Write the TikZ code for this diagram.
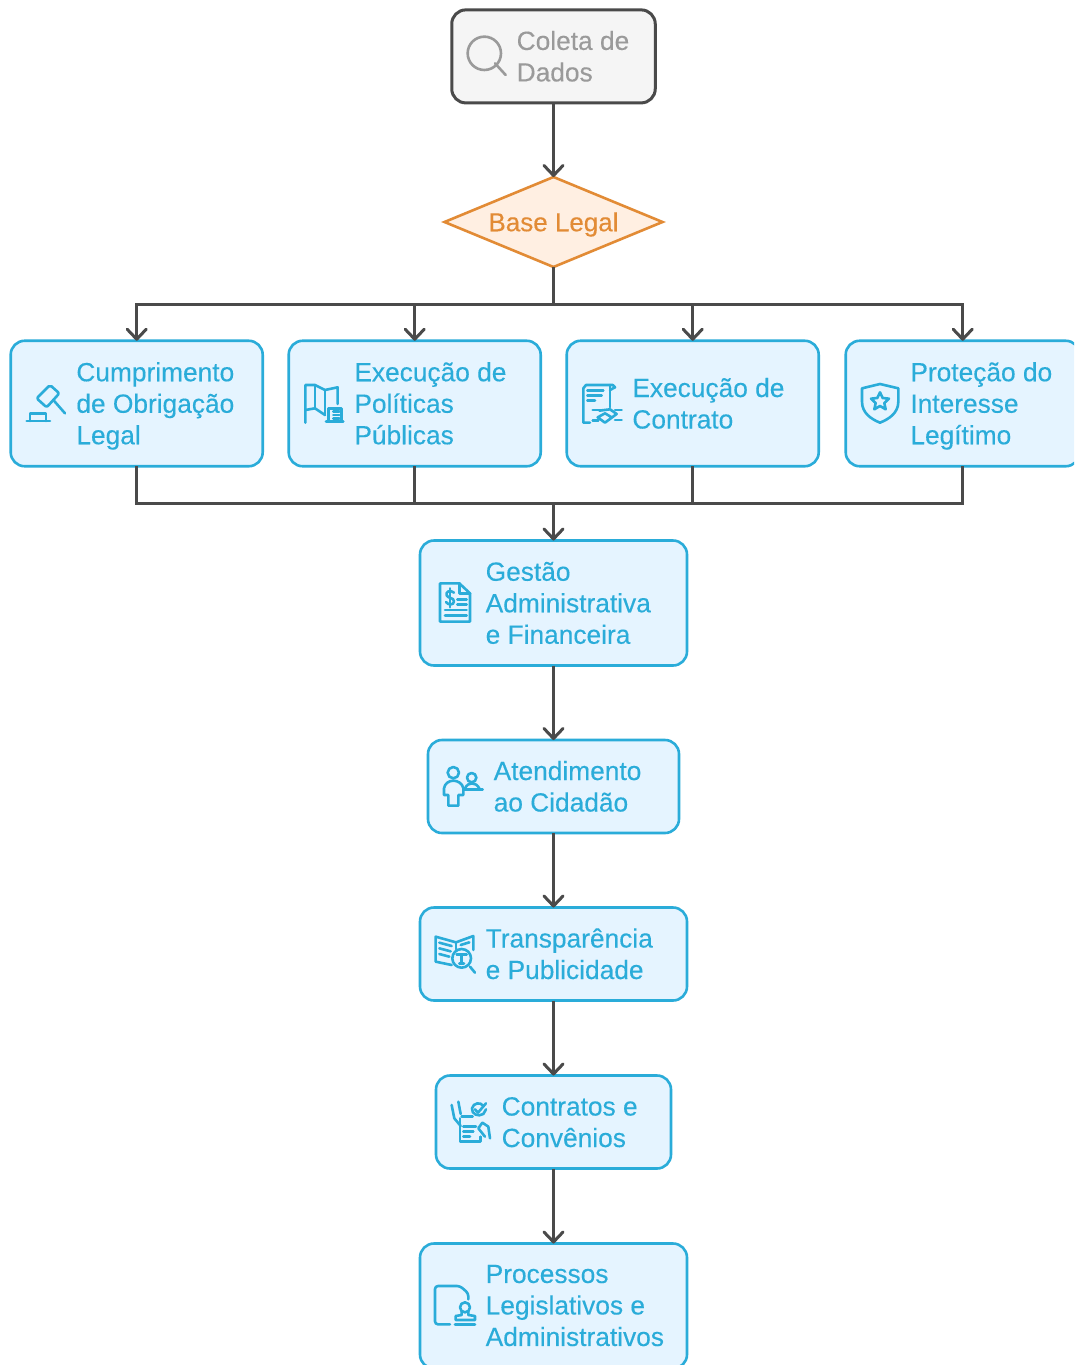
\documentclass[tikz,border=0pt]{standalone}
\usepackage{fontspec}
\setmainfont[FakeBold=0.25]{Liberation Sans}
\usetikzlibrary{arrows.meta,shapes.geometric}
\definecolor{blu}{HTML}{2AACD9}
\definecolor{blufill}{HTML}{E5F4FF}
\definecolor{orng}{HTML}{E28B35}
\definecolor{orngfill}{HTML}{FFEFE2}
\definecolor{gry}{HTML}{4A4A4A}
\definecolor{grytxt}{HTML}{9A9A9A}
\definecolor{gryfill}{HTML}{F5F5F5}
\newcommand\st{\rule[-6.5pt]{0pt}{31.5pt}}
\tikzset{
  box/.style={draw=blu,fill=blufill,line width=2.6pt,rounded corners=14pt,inner sep=0pt,outer sep=0pt},
  graybox/.style={draw=gry,fill=gryfill,line width=3pt,rounded corners=14pt,inner sep=0pt,outer sep=0pt},
  decision/.style={diamond,shape aspect=2.42,draw=orng,fill=orngfill,line width=2.6pt,inner sep=0pt,outer sep=0pt,text=orng,font=\fontsize{26}{31.5}\selectfont},
  lab/.style={anchor=west,align=left,inner sep=0pt,text=blu,font=\fontsize{26.3}{31.5}\selectfont},
  conn/.style={draw=gry,line width=3pt},
  arr/.style={conn,-{Straight Barb[length=10pt,width=19pt,round]}},
  ico/.style={draw=blu,line width=2.6pt,line cap=round,line join=round},
  zoomed/.style={shift={#1},x=0.3333pt,y=-0.3333pt},
}
\begin{document}
\begin{tikzpicture}[x=1pt,y=-1pt]
\clip (0,0) rectangle (1074,1365);
\fill[white] (0,0) rectangle (1074,1365);
% nodes
\node[graybox,minimum width=203.5pt,minimum height=93pt] (coleta) at (553.5,56.4) {};
\node[decision,minimum width=218pt,minimum height=90pt] (base) at (553.5,222) {\st Base Legal};
\node[box,minimum width=252pt,minimum height=125.5pt] (cump) at (136.7,403.5) {};
\node[box,minimum width=252pt,minimum height=125.5pt] (polit) at (414.7,403.5) {};
\node[box,minimum width=252pt,minimum height=125.5pt] (contr) at (692.7,403.5) {};
\node[box,minimum width=234pt,minimum height=125.5pt] (prot) at (962.7,403.5) {};
\node[box,minimum width=267pt,minimum height=125pt] (gest) at (553.5,603) {};
\node[box,minimum width=251pt,minimum height=93pt] (atend) at (553.5,786.5) {};
\node[box,minimum width=267pt,minimum height=93pt] (transp) at (553.5,954) {};
\node[box,minimum width=235pt,minimum height=93pt] (conv) at (553.5,1122) {};
\node[box,minimum width=267pt,minimum height=125pt] (proc) at (553.5,1306) {};
% labels
\node[lab,text=grytxt] (tcoleta) at (516.5,56.4) {\st Coleta de\\\st Dados};
\node[lab] (tcump) at (76.2,403.5) {\st Cumprimento\\\st de Obrigação\\\st Legal};
\node[lab] (tpolit) at (354.2,403.5) {\st Execução de\\\st Políticas\\\st Públicas};
\node[lab] (tcontr) at (632.2,403.5) {\st Execução de\\\st Contrato};
\node[lab] (tprot) at (910.2,403.5) {\st Proteção do\\\st Interesse\\\st Legítimo};
\node[lab] (tgest) at (485.5,603) {\st Gestão\\\st Administrativa\\\st e Financeira};
\node[lab] (tatend) at (493.5,786.5) {\st Atendimento\\\st ao Cidadão};
\node[lab] (ttransp) at (485.5,954) {\st Transparência\\\st e Publicidade};
\node[lab] (tconv) at (501.5,1122) {\st Contratos e\\\st Convênios};
\node[lab] (tproc) at (485.5,1305.2) {\st Processos\\\st Legislativos e\\\st Administrativos};
% junctions
\coordinate (busT) at (base.south |- 0,304);
\coordinate (busB) at (base.south |- 0,503);
% connectors
\draw[arr] (coleta) -- (base);
\draw[conn] (base) -- (busT);
\draw[arr] (busT) -| (cump.north);
\draw[arr] (busT) -| (polit.north);
\draw[arr] (busT) -| (contr.north);
\draw[arr] (busT) -| (prot.north);
\draw[conn] (cump.south) |- (busB);
\draw[conn] (polit.south) |- (busB);
\draw[conn] (contr.south) |- (busB);
\draw[conn] (prot.south) |- (busB);
\draw[arr] (busB) -- (gest.north);
\draw[arr] (gest) -- (atend);
\draw[arr] (atend) -- (transp);
\draw[arr] (transp) -- (conv);
\draw[arr] (conv) -- (proc);
% search icon
\begin{scope}[zoomed={(440,0)}]
\draw[ico,draw=grytxt] (133,160) circle (50);
\draw[ico,draw=grytxt] (165,190) -- (197,225);
\end{scope}
% gavel
\begin{scope}[zoomed={(0,330)}]
\draw[ico,rounded corners=2pt] (150,165) -- (178,190) -- (140,232) -- (110,205) -- cycle;
\draw[ico] (160,210) -- (195,250);
\draw[ico] (80,273) -- (150,273);
\draw[ico] (90,273) -- (90,250) -- (138,250) -- (138,273);
\end{scope}
% map
\begin{scope}[zoomed={(0,330)}]
\draw[ico] (916,278) -- (916,165) -- (945,165) -- (975,180) -- (1013,172) -- (1013,222);
\draw[ico] (916,240) -- (945,235) -- (975,255);
\draw[ico] (945,165) -- (945,235);
\draw[ico] (975,180) -- (975,255);
\draw[ico] (985,275) -- (985,235) -- (1024,235) -- (1024,275);
\draw[ico] (978,275) -- (1030,275);
\draw[ico] (1000,245) -- (1018,245) (1000,255) -- (1018,255) (1000,265) -- (1018,265);
\end{scope}
% contract
\begin{scope}[zoomed={(560,330)}]
\draw[ico] (90,278) -- (70,278) -- (70,175) -- (78,165) -- (158,165) -- (165,172) -- (150,180);
\draw[ico] (150,165) -- (150,232);
\draw[ico] (82,182) -- (130,182) (82,197) -- (125,197) (82,212) -- (105,212);
\draw[ico] (98,240) -- (128,240) (98,272) -- (115,272) (165,240) -- (185,240) (165,270) -- (185,270);
\draw[ico] (118,242) -- (150,238) -- (170,252) -- (135,278) -- (113,262) -- (135,250) -- (155,262);
\end{scope}
% shield
\begin{scope}[zoomed={(840,330)}]
\draw[ico] (66,175) -- (120,162) -- (175,175) -- (175,215) .. controls (175,250) and (145,268) .. (120,278) .. controls (95,268) and (66,250) .. (66,215) -- cycle;
\draw[ico] (120,187) -- (128,204) -- (147,206) -- (133,219) -- (137,238) -- (120,228) -- (103,238) -- (107,219) -- (93,206) -- (112,204) -- cycle;
\end{scope}
% finance doc
\begin{scope}[zoomed={(420,540)}]
\draw[ico] (60,130) -- (118,130) -- (150,160) -- (150,245) -- (60,245) -- cycle;
\draw[ico] (118,130) -- (118,160) -- (150,160);
\draw[ico] (102,158) .. controls (90,148) and (76,155) .. (80,166) .. controls (84,176) and (102,172) .. (102,184) .. controls (102,196) and (84,196) .. (78,186);
\draw[ico] (90,145) -- (90,202);
\draw[ico] (112,178) -- (140,178) (112,194) -- (140,194) (75,210) -- (140,210) (75,226) -- (140,226);
\end{scope}
% persons
\begin{scope}[zoomed={(420,540)}]
\draw[ico] (100,698) circle (17);
\draw[ico] (85,797) -- (115,797) -- (115,765) -- (130,765) -- (130,745) .. controls (128,730) and (112,722) .. (100,722) .. controls (88,722) and (74,730) .. (72,745) -- (72,765) -- (85,765) -- cycle;
\draw[ico] (155,713) circle (14);
\draw[ico] (135,745) .. controls (140,735) and (148,730) .. (155,730) .. controls (165,730) and (172,735) .. (178,745);
\draw[ico] (132,748) -- (188,748);
\end{scope}
% open book
\begin{scope}[zoomed={(420,910)}]
\draw[ico] (95,165) -- (47,155) -- (47,80) -- (108,97) -- (160,78) -- (160,120);
\draw[ico] (108,97) -- (108,118);
\draw[ico] (58,98) -- (95,108) (58,115) -- (92,124) (58,132) -- (88,140);
\draw[ico] (122,105) -- (148,97);
\draw[ico] (125,145) circle (28);
\draw[ico] (110,133) -- (140,133) (125,133) -- (125,160) (118,160) -- (132,160);
\draw[ico] (150,170) -- (165,188);
\end{scope}
% signing hands
\begin{scope}[zoomed={(420,910)}]
\draw[ico] (120,625) -- (120,695) -- (182,695) -- (182,680);
\draw[ico] (125,620) -- (158,620);
\draw[ico] (130,650) -- (168,650) (130,665) -- (160,665) (130,680) -- (150,680);
\draw[ico] (190,588) .. controls (182,575) and (160,578) .. (156,595) .. controls (154,612) and (175,622) .. (190,612) -- (198,598);
\draw[ico] (165,598) -- (174,608) -- (198,580);
\draw[ico] (95,585) -- (103,625) -- (122,648);
\draw[ico] (115,575) -- (122,612);
\draw[ico] (210,685) -- (205,650) -- (187,638) -- (175,655) -- (195,680);
\end{scope}
% stamp doc
\begin{scope}[zoomed={(410,1230)}]
\draw[ico,rounded corners=3pt] (120,283) -- (75,283) -- (75,168) -- (150,168) -- (175,190) -- (175,208);
\draw[ico] (165,232) circle (15);
\draw[ico] (155,245) -- (155,255) -- (137,258) -- (137,270) -- (195,270) -- (195,258) -- (175,255) -- (175,245);
\draw[ico] (135,283) -- (195,283);
\end{scope}
\end{tikzpicture}
\end{document}
